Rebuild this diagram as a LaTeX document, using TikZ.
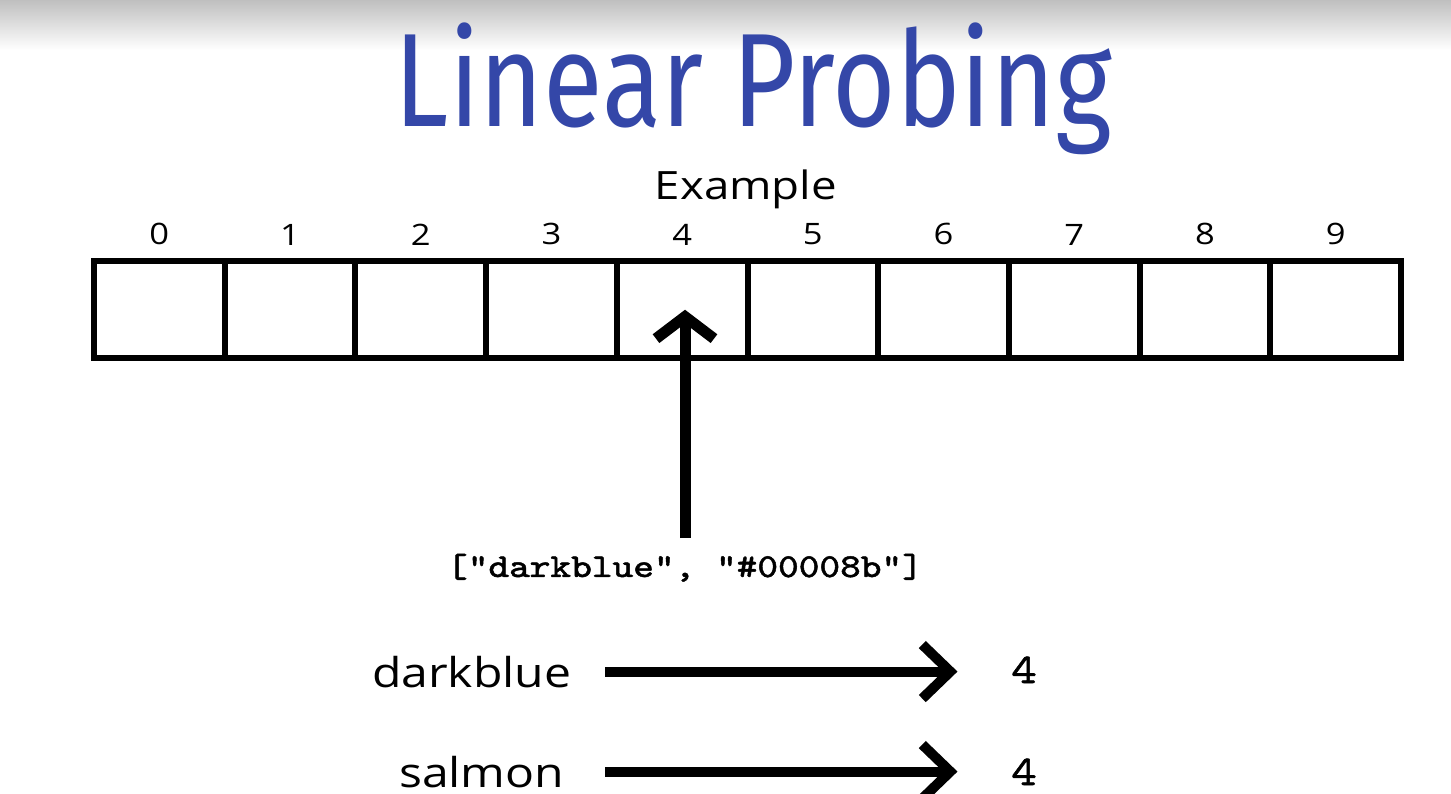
\documentclass[tikz,border=0pt]{standalone}
\usepackage{fontspec}
\setmainfont{Open Sans}[FakeStretch=1.17]
\newfontfamily\codefont{Latin Modern Mono}[FakeStretch=1.18, FakeBold=1.4]
\newfontfamily\titlefont{Fira Sans}
\usepackage{xcolor}
\usepackage{tikz}
\usetikzlibrary{positioning}
\usetikzlibrary{arrows.meta}
\definecolor{titleblue}{RGB}{52,71,168}
\tikzset{
    cell/.style = {draw, line width=0.6mm, minimum width=13.07mm, minimum height=9.65mm, inner sep=0pt},
    idx/.style = {font=\fontsize{8.4}{10}\selectfont, inner sep=0pt},
    word/.style = {font=\fontsize{11.7}{14}\selectfont, inner sep=0pt},
    code/.style = {font=\codefont\fontsize{9.5}{11}\selectfont, inner sep=0pt},
    hash/.style = {font=\codefont\fontsize{12}{14}\selectfont, inner sep=0pt},
    up arrow/.style = {line width=1.1mm, -{Straight Barb[length=2.2mm,width=5.8mm]}},
    map arrow/.style = {line width=1mm, -{Straight Barb[length=2.8mm,width=5.4mm]}}
}

\begin{document}
\begin{tikzpicture}[x=0.1mm, y=-0.1mm]
    \useasboundingbox (0,0) rectangle (1451,794);
    \shade[top color=black!25, bottom color=white] (0,0) rectangle (1451,50);
    \node(title)[anchor=north, inner sep=0pt, text=titleblue] at (753.5,22) {\resizebox*{71.7mm}{13.2mm}{\titlefont Linear Probing}};
    \node(example)[word, font=\fontsize{11.1}{13}\selectfont, anchor=base] at (746,200) {Example};
    % the table
    \foreach \i in {0,...,9}
        \node(c\i)[cell, label={[idx, label distance=1.27mm]above:\i}] at ({94+130.7*(\i+0.5)},309.75) {};
    \node(pair)[code, anchor=base] at (685,577) {["darkblue", "\#00008b"]};
    \draw[up arrow, shorten <=1.5mm] (pair.north) -- (pair.north |- c4.center);
    % keys to their index
    \node(darkblue)[word, anchor=base east] at (572,687) {darkblue};
    \node(salmon)[word, anchor=base east] at (565,787) {salmon};
    \node(h1)[hash, anchor=base] at (1024,683) {4};
    \node(h2)[hash, anchor=base] at (1024,785) {4};
    \draw[map arrow, shorten <=3.3mm, shorten >=5.3mm] (darkblue.east) -- (darkblue.east -| h1.west);
    \draw[map arrow, shorten <=4mm, shorten >=5.3mm] (salmon.east) -- (salmon.east -| h2.west);
\end{tikzpicture}
\end{document}
